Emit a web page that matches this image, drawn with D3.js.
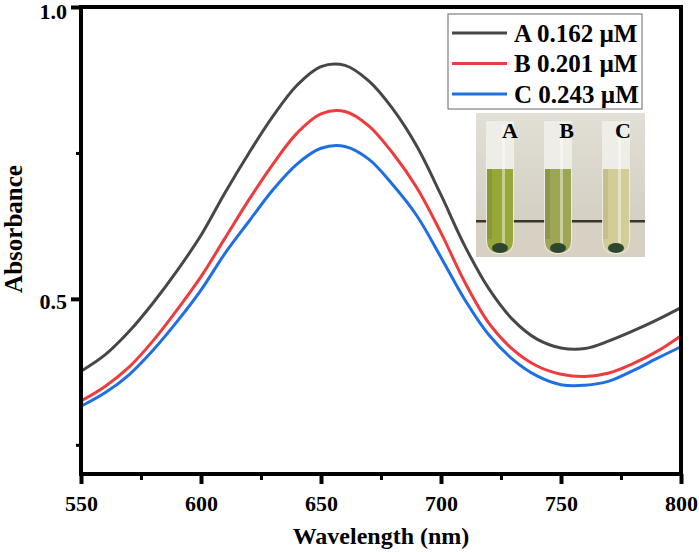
<!DOCTYPE html>
<html>
<head>
    <title>Absorbance spectra</title>
    <script src="https://d3js.org/d3.v7.min.js"></script>
    <style>
        body { margin: 0; background: #fff; }
        text { font-family: "Liberation Serif", "Times New Roman", serif; font-weight: bold; }
    </style>
</head>
<body>
    <div id="chart"></div>
    <script>
        // Data (absorbance vs wavelength)
        const wavelengths = [550, 560, 570, 580, 590, 600, 610, 620, 630, 640, 650, 660, 670,
                             680, 690, 700, 710, 720, 730, 740, 750, 760, 770, 780, 790, 800];
        const absA = [0.376, 0.404, 0.444, 0.493, 0.548, 0.609, 0.682, 0.750, 0.813, 0.866, 0.898, 0.900, 0.873,
                      0.825, 0.761, 0.678, 0.590, 0.517, 0.464, 0.431, 0.416, 0.415, 0.428, 0.445, 0.464, 0.485];
        const absB = [0.325, 0.350, 0.383, 0.428, 0.481, 0.538, 0.604, 0.670, 0.731, 0.784, 0.817, 0.821, 0.796,
                      0.749, 0.690, 0.613, 0.528, 0.458, 0.413, 0.385, 0.371, 0.367, 0.373, 0.389, 0.410, 0.437];
        const absC = [0.316, 0.339, 0.370, 0.412, 0.461, 0.515, 0.578, 0.633, 0.687, 0.731, 0.758, 0.761, 0.739,
                      0.695, 0.642, 0.571, 0.498, 0.438, 0.396, 0.368, 0.353, 0.352, 0.359, 0.377, 0.398, 0.418];
        const seriesNames = ["A 0.162 \u00b5M", "B 0.201 \u00b5M", "C 0.243 \u00b5M"];
        const seriesColors = ["#474747", "#ef3b3d", "#1e6fe6"];
        const xTicks = [550, 600, 650, 700, 750, 800];
        const xMinorTicks = [575, 625, 675, 725, 775];
        const yTicks = [0.5, 1.0];
        const yMinorTicks = [0.25, 0.75];
        const tubeLabels = ["A", "B", "C"];

        const margin = { top: 7, right: 18, bottom: 78, left: 81 },
              width = 699 - margin.left - margin.right,
              height = 552 - margin.top - margin.bottom;

        const root = d3.select("#chart")
            .append("svg")
            .attr("width", 699)
            .attr("height", 552);

        const svg = root.append("g")
            .attr("transform", `translate(${margin.left},${margin.top})`);

        const x = d3.scaleLinear().domain([550, 800]).range([0, width]);
        const y = d3.scaleLinear().domain([0.2, 1.0]).range([height, 0]);

        // X axis, major + minor ticks
        svg.append("g")
            .attr("transform", `translate(0,${height})`)
            .call(d3.axisBottom(x).tickValues(xTicks).tickSize(10).tickPadding(11).tickFormat(d3.format("d")));
        svg.append("g")
            .attr("transform", `translate(0,${height})`)
            .call(d3.axisBottom(x).tickValues(xMinorTicks).tickSize(6).tickFormat(""))
            .attr("class", "minor");

        // Y axis, major + minor ticks
        const yAxis = svg.append("g")
            .call(d3.axisLeft(y).tickValues(yTicks).tickSize(10).tickPadding(4).tickFormat(d3.format(".1f")));
        svg.append("g")
            .call(d3.axisLeft(y).tickValues(yMinorTicks).tickSize(5).tickFormat(""))
            .attr("class", "minor");

        svg.selectAll(".domain").remove();
        svg.selectAll(".tick line").attr("stroke", "#000").attr("stroke-width", 4);
        svg.selectAll(".minor .tick line").attr("stroke-width", 3);
        svg.selectAll(".tick text").attr("fill", "#000").style("font-size", "22px");
        yAxis.selectAll(".tick text").attr("dy", d => d === 1.0 ? "0.52em" : "0.42em");

        // Curves
        const series = [absA, absB, absC];
        const line = d3.line()
            .x((d, i) => x(wavelengths[i]))
            .y(d => y(d))
            .curve(d3.curveCatmullRom);

        svg.append("g")
            .selectAll("path")
            .data(series)
            .enter()
            .append("path")
            .attr("d", d => line(d))
            .attr("fill", "none")
            .attr("stroke", (d, i) => seriesColors[i])
            .attr("stroke-width", 3);

        // Frame
        svg.append("rect")
            .attr("x", 0).attr("y", 0)
            .attr("width", width).attr("height", height)
            .attr("fill", "none")
            .attr("stroke", "#000")
            .attr("stroke-width", 4);

        // Axis titles
        svg.append("text")
            .attr("x", width / 2)
            .attr("y", height + 70)
            .attr("text-anchor", "middle")
            .style("font-size", "24px")
            .text("Wavelength (nm)");

        svg.append("text")
            .attr("transform", "rotate(-90)")
            .attr("x", -222)
            .attr("y", -margin.left + 22)
            .attr("text-anchor", "middle")
            .style("font-size", "25px")
            .text("Absorbance");

        // Legend
        const legend = root.append("g").attr("transform", "translate(448,14)");
        legend.append("rect")
            .attr("width", 194).attr("height", 95)
            .attr("fill", "#fff")
            .attr("stroke", "#666")
            .attr("stroke-width", 1);
        seriesNames.forEach(function (name, i) {
            const ly = 19 + i * 30.5;
            legend.append("line")
                .attr("x1", 4).attr("x2", 59)
                .attr("y1", ly).attr("y2", ly)
                .attr("stroke", seriesColors[i])
                .attr("stroke-width", 3);
            legend.append("text")
                .attr("x", 66).attr("y", ly)
                .attr("dy", "0.35em")
                .style("font-size", "25px")
                .text(name);
        });

        // Inset: photo of the three tubes
        const inset = root.append("g").attr("transform", "translate(476,113)");
        const defs = root.append("defs");
        const wall = defs.append("linearGradient").attr("id", "wall").attr("x1", 0).attr("y1", 0).attr("x2", 0).attr("y2", 1);
        wall.append("stop").attr("offset", "0%").attr("stop-color", "#e2dfd6");
        wall.append("stop").attr("offset", "100%").attr("stop-color", "#cfcabd");
        inset.append("rect").attr("width", 169).attr("height", 144).attr("fill", "url(#wall)");
        inset.append("rect").attr("y", 109).attr("width", 169).attr("height", 35).attr("fill", "#d7d1c3");
        inset.append("rect").attr("y", 107).attr("width", 169).attr("height", 2.5).attr("fill", "#3b352e");

        const tubeX = [24, 82, 140];
        const liquid = ["#98a838", "#9ea553", "#d2cc96"];
        const liquidDark = ["#7d8f2a", "#858c3e", "#bdb67f"];
        tubeX.forEach(function (cx, i) {
            const w = 28, top = 8, bottom = 141;
            const tube = `M${cx - w / 2},${top} L${cx - w / 2},${bottom - 14} Q${cx - w / 2},${bottom} ${cx},${bottom} Q${cx + w / 2},${bottom} ${cx + w / 2},${bottom - 14} L${cx + w / 2},${top} Z`;
            inset.append("path").attr("d", tube).attr("fill", "#f1f0ea").attr("opacity", 0.85);
            const lt = 56;
            const liq = `M${cx - w / 2 + 1},${lt} L${cx - w / 2 + 1},${bottom - 14} Q${cx - w / 2 + 1},${bottom - 1} ${cx},${bottom - 1} Q${cx + w / 2 - 1},${bottom - 1} ${cx + w / 2 - 1},${bottom - 14} L${cx + w / 2 - 1},${lt} Z`;
            inset.append("path").attr("d", liq).attr("fill", liquid[i]);
            inset.append("rect").attr("x", cx - w / 2 + 1).attr("y", lt).attr("width", 5).attr("height", 70).attr("fill", liquidDark[i]).attr("opacity", 0.6);
            inset.append("rect").attr("x", cx + 2).attr("y", 12).attr("width", 3).attr("height", 120).attr("fill", "#ffffff").attr("opacity", 0.45);
            inset.append("ellipse").attr("cx", cx).attr("cy", bottom - 6).attr("rx", 8).attr("ry", 5).attr("fill", "#2d4630");
            inset.append("text")
                .attr("x", cx + 10 - i * 1.5)
                .attr("y", 25)
                .attr("text-anchor", "middle")
                .style("font-size", "22px")
                .text(tubeLabels[i]);
        });
    </script>
</body>
</html>
